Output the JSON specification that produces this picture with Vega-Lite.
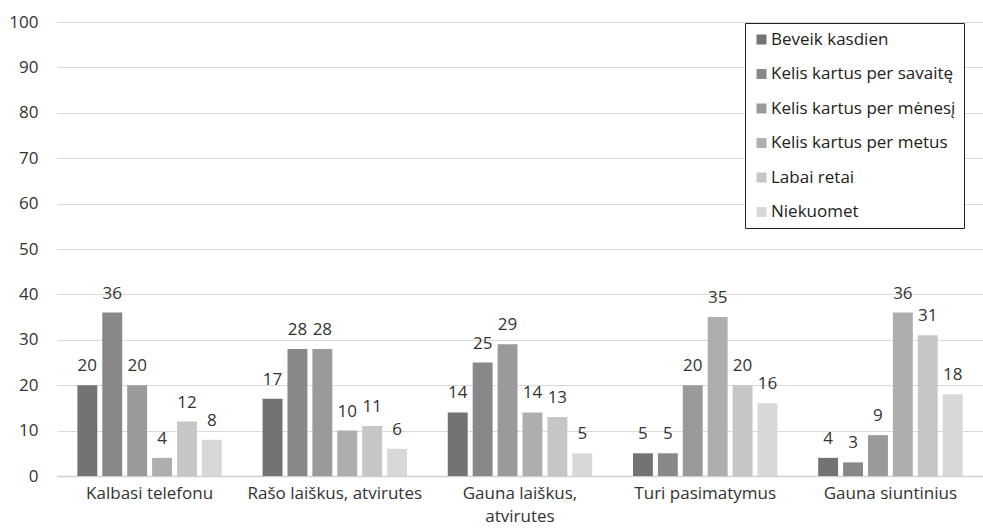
{
  "$schema": "https://vega.github.io/schema/vega-lite/v6.json",
  "autosize": "none",
  "padding": {"left": 57, "top": 22, "right": 0, "bottom": 56},
  "width": 926,
  "height": 454,
  "background": "white",
  "config": {
    "font": "Open Sans",
    "view": {"stroke": null},
    "axis": {"labelFont": "Open Sans", "labelFontSize": 17, "labelColor": "#333333"}
  },
  "data": {
    "values": [
      {"cat": "Kalbasi telefonu", "series": "Beveik kasdien", "value": 20},
      {"cat": "Kalbasi telefonu", "series": "Kelis kartus per savaitę", "value": 36},
      {"cat": "Kalbasi telefonu", "series": "Kelis kartus per mėnesį", "value": 20},
      {"cat": "Kalbasi telefonu", "series": "Kelis kartus per metus", "value": 4},
      {"cat": "Kalbasi telefonu", "series": "Labai retai", "value": 12},
      {"cat": "Kalbasi telefonu", "series": "Niekuomet", "value": 8},
      {"cat": "Rašo laiškus, atvirutes", "series": "Beveik kasdien", "value": 17},
      {"cat": "Rašo laiškus, atvirutes", "series": "Kelis kartus per savaitę", "value": 28},
      {"cat": "Rašo laiškus, atvirutes", "series": "Kelis kartus per mėnesį", "value": 28},
      {"cat": "Rašo laiškus, atvirutes", "series": "Kelis kartus per metus", "value": 10},
      {"cat": "Rašo laiškus, atvirutes", "series": "Labai retai", "value": 11},
      {"cat": "Rašo laiškus, atvirutes", "series": "Niekuomet", "value": 6},
      {"cat": "Gauna laiškus, atvirutes", "series": "Beveik kasdien", "value": 14},
      {"cat": "Gauna laiškus, atvirutes", "series": "Kelis kartus per savaitę", "value": 25},
      {"cat": "Gauna laiškus, atvirutes", "series": "Kelis kartus per mėnesį", "value": 29},
      {"cat": "Gauna laiškus, atvirutes", "series": "Kelis kartus per metus", "value": 14},
      {"cat": "Gauna laiškus, atvirutes", "series": "Labai retai", "value": 13},
      {"cat": "Gauna laiškus, atvirutes", "series": "Niekuomet", "value": 5},
      {"cat": "Turi pasimatymus", "series": "Beveik kasdien", "value": 5},
      {"cat": "Turi pasimatymus", "series": "Kelis kartus per savaitę", "value": 5},
      {"cat": "Turi pasimatymus", "series": "Kelis kartus per mėnesį", "value": 20},
      {"cat": "Turi pasimatymus", "series": "Kelis kartus per metus", "value": 35},
      {"cat": "Turi pasimatymus", "series": "Labai retai", "value": 20},
      {"cat": "Turi pasimatymus", "series": "Niekuomet", "value": 16},
      {"cat": "Gauna siuntinius", "series": "Beveik kasdien", "value": 4},
      {"cat": "Gauna siuntinius", "series": "Kelis kartus per savaitę", "value": 3},
      {"cat": "Gauna siuntinius", "series": "Kelis kartus per mėnesį", "value": 9},
      {"cat": "Gauna siuntinius", "series": "Kelis kartus per metus", "value": 36},
      {"cat": "Gauna siuntinius", "series": "Labai retai", "value": 31},
      {"cat": "Gauna siuntinius", "series": "Niekuomet", "value": 18}
    ]
  },
  "encoding": {
    "x": {
      "field": "cat", "type": "nominal", "sort": null,
      "scale": {"paddingInner": 0.22, "paddingOuter": 0.11},
      "axis": {
        "title": null, "labelAngle": 0, "ticks": false, "domainColor": "#d0d0d0", "domainWidth": 1.5,
        "labelPadding": 9,
        "labelExpr": "datum.label == 'Gauna laiškus, atvirutes' ? ['Gauna laiškus,', 'atvirutes'] : datum.label",
        "labelLineHeight": 23
      }
    },
    "xOffset": {
      "field": "series", "type": "nominal", "sort": null,
      "scale": {"paddingInner": 0.2, "paddingOuter": 0}
    },
    "y": {
      "field": "value", "type": "quantitative",
      "scale": {"domain": [0, 100]},
      "axis": {
        "title": null, "values": [0,10,20,30,40,50,60,70,80,90,100],
        "labelOverlap": false,
        "domain": false, "ticks": false, "gridColor": "#d9d9d9", "gridWidth": 1.2,
        "labelPadding": 19
      }
    }
  },
  "layer": [
    {
      "mark": {"type": "bar"},
      "encoding": {
        "color": {
          "field": "series", "type": "nominal", "sort": null,
          "scale": {
            "domain": ["Beveik kasdien", "Kelis kartus per savaitę", "Kelis kartus per mėnesį", "Kelis kartus per metus", "Labai retai", "Niekuomet"],
            "range": ["#737375", "#88888b", "#9a9a9d", "#aeaeb1", "#c6c6c8", "#d8d8da"]
          },
          "legend": {
            "title": null, "orient": "none", "legendX": 688, "legendY": 1,
            "symbolType": "square", "symbolSize": 100, "symbolStrokeWidth": 0,
            "labelFont": "Open Sans", "labelFontSize": 17, "labelColor": "#222222",
            "rowPadding": 16.5, "labelOffset": 1,
            "strokeColor": "#222222", "padding": 8, "fillColor": "white",
            "labelLimit": 300
          }
        }
      }
    },
    {
      "mark": {"type": "text", "baseline": "alphabetic", "dy": -14, "fontSize": 17, "font": "Open Sans", "color": "#333333"},
      "encoding": {"text": {"field": "value", "type": "quantitative"}}
    }
  ]
}
